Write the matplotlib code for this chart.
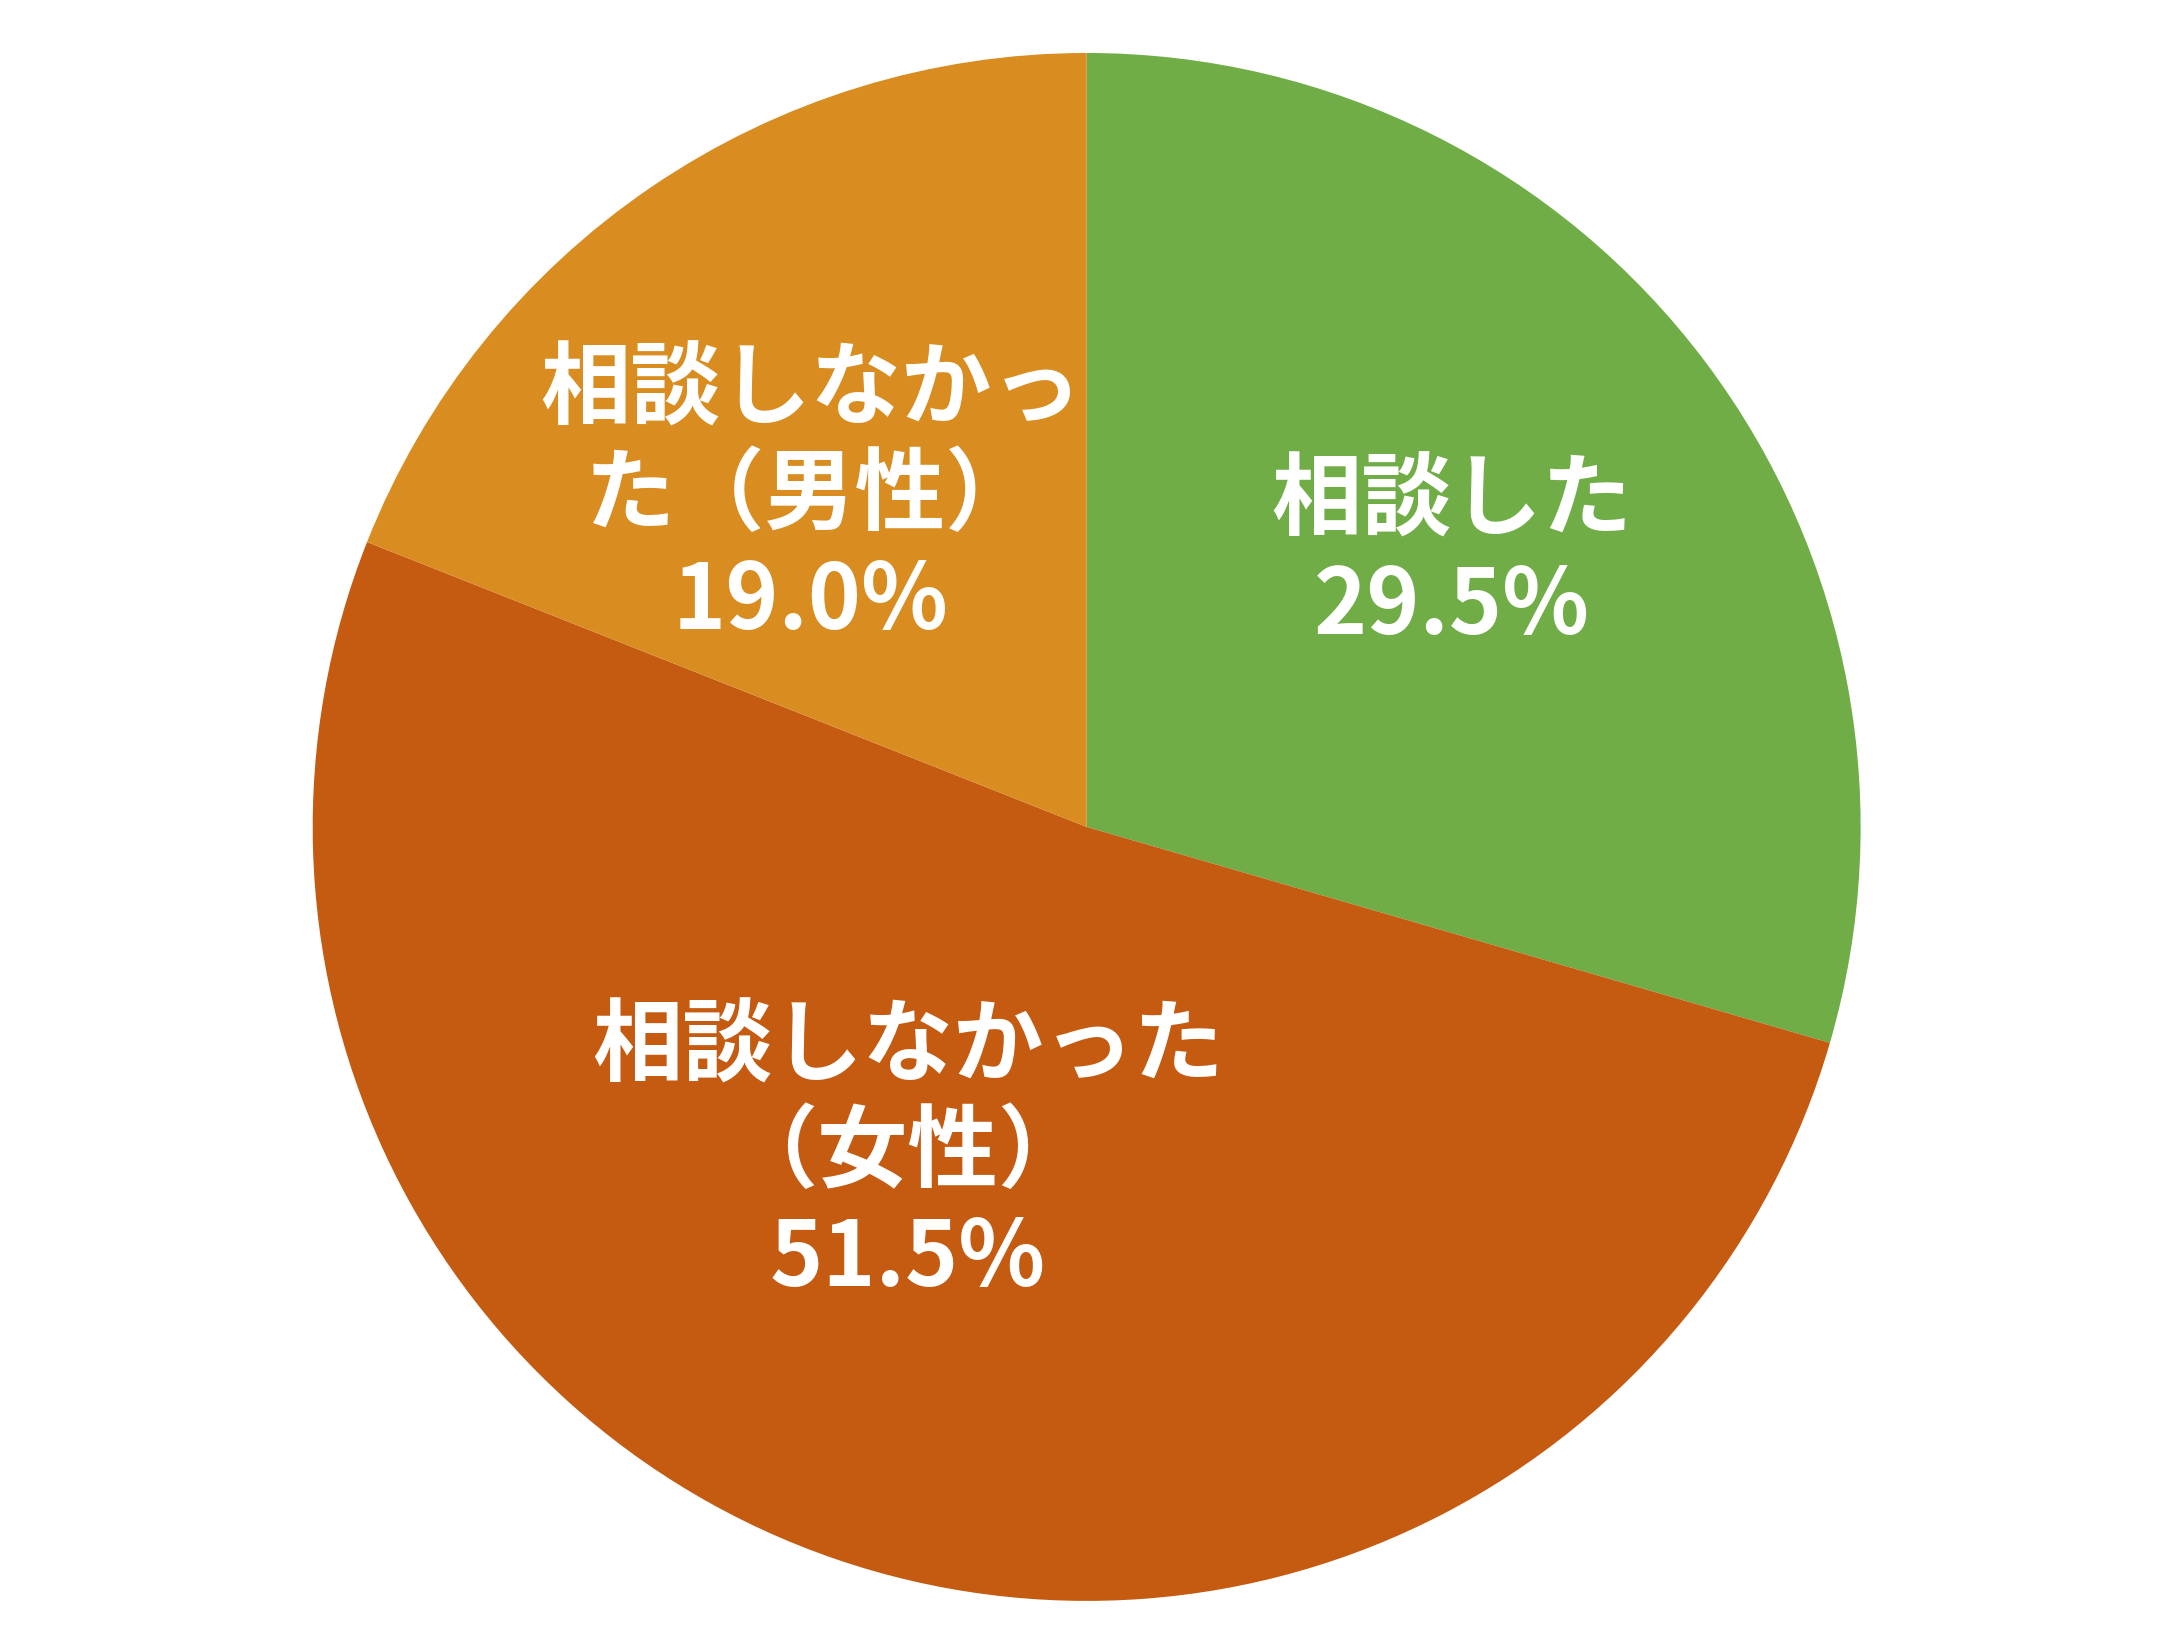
import matplotlib
matplotlib.use("Agg")
import matplotlib.pyplot as plt

plt.rcParams["font.family"] = ["Noto Sans CJK JP", "DejaVu Sans"]

# data
categories = ["相談した", "相談しなかった（女性）", "相談しなかった（男性）"]
label_lines = ["相談した", "相談しなかった\n（女性）", "相談しなかっ\nた（男性）"]
values = [29.5, 51.5, 19.0]
colors = ["#70AD47", "#C55A11", "#D98C20"]

# label centres in units of the radius (Excel "best fit" placement)
label_pos = [(0.47, 0.35), (-0.23, -0.42), (-0.355, 0.425)]

fig = plt.figure(figsize=(21.78, 16.5), dpi=100)
ax = fig.add_axes([0, 0, 1, 1])

wedges, _ = ax.pie(values, colors=colors, startangle=90, counterclock=False,
                   radius=0.995, center=(0, 0))

for name, v, (x, y) in zip(label_lines, values, label_pos):
    ax.text(x, y, f"{name}\n{v:.1f}%", ha="center", va="center", color="white",
            fontsize=65, fontweight="bold", linespacing=1.2)

ax.set_aspect("equal")
ax.set_xlim(-1.397, 1.403)
ax.set_ylim(-1.058, 1.063)
ax.axis("off")

fig.savefig("out.png", dpi=100, facecolor="white")
